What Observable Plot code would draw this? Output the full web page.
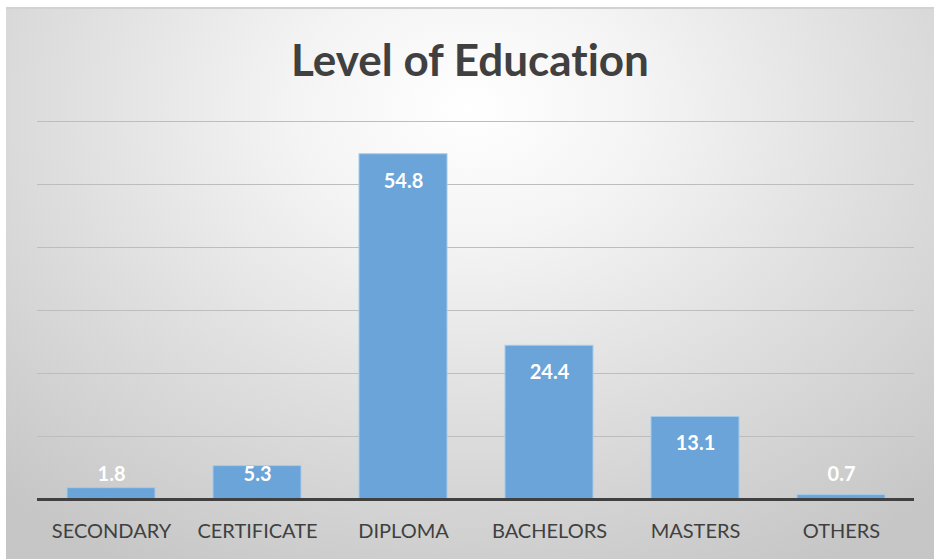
<!DOCTYPE html>
<html>
<head>
<meta charset="utf-8">
<script src="https://cdn.jsdelivr.net/npm/d3@7"></script>
<script src="https://cdn.jsdelivr.net/npm/@observablehq/plot@0.6"></script>
<style>
  html, body { margin: 0; padding: 0; background: #ffffff; }
  #frame {
    position: absolute; left: 6px; top: 7px; width: 928px; height: 552px;
    border-top: 2px solid #d2d2d2; box-sizing: border-box;
    background: radial-gradient(ellipse 75% 95% at 50% 18%, #ffffff 0%, #f4f4f4 25%, #dedede 60%, #c6c6c6 100%);
    overflow: hidden;
    font-variant-ligatures: none;
  }
  #title {
    position: absolute; left: 0; top: 0; width: 100%; height: 100px;
    text-align: center; line-height: 100px; font-family: Lato, sans-serif;
    font-weight: bold; font-size: 44px; color: #404040; font-variant-ligatures: none;
  }
  #chart { position: absolute; left: 0; top: 98px; }
  #chart svg text { font-variant-ligatures: none; }
</style>
</head>
<body>
<div id="frame">
  <div id="title">Level of Education</div>
  <div id="chart"></div>
</div>
<script>
const categories = ["SECONDARY", "CERTIFICATE", "DIPLOMA", "BACHELORS", "MASTERS", "OTHERS"];
const values = [1.8, 5.3, 54.8, 24.4, 13.1, 0.7];
const gridTicks = [10, 20, 30, 40, 50, 60];

const data = categories.map((c, i) => ({category: c, value: values[i]}));

const chart = Plot.plot({
  width: 928,
  height: 454,
  marginTop: 14,
  marginBottom: 62,
  marginLeft: 31,
  marginRight: 20,
  style: {background: "transparent", fontFamily: "Lato, sans-serif"},
  x: {domain: categories, paddingInner: 0.4, paddingOuter: 0.2, label: null},
  y: {domain: [0, 60], axis: null},
  marks: [
    Plot.ruleY(gridTicks, {stroke: "#bdbdbd", strokeWidth: 1}),
    Plot.barY(data, {x: "category", y: "value", fill: "#6aa4d8", stroke: "#a6cbea", strokeWidth: 1}),
    Plot.ruleY([0], {stroke: "#404040", strokeWidth: 3}),
    Plot.text(data, {
      x: "category",
      y: d => Math.max(d.value, 8.2),
      dy: 27,
      text: d => d.value.toFixed(1),
      fill: "white",
      fontWeight: "bold",
      fontSize: 20
    }),
    Plot.axisX({tickSize: 0, tickPadding: 24, fontSize: 20, color: "#404040", label: null})
  ]
});
document.getElementById("chart").appendChild(chart);
</script>
</body>
</html>
